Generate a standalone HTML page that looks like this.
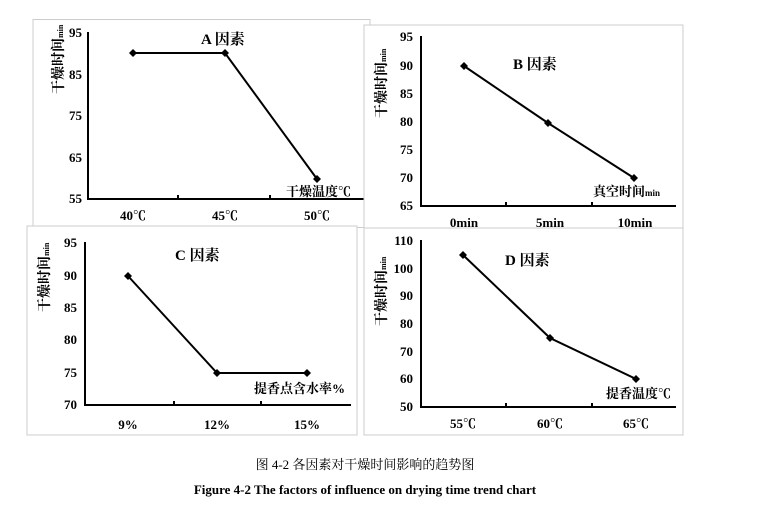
<!DOCTYPE html>
<html><head><meta charset="utf-8"><style>
html,body{margin:0;padding:0;background:#fff;}
svg{display:block;}
text{font-family:"Liberation Serif","Noto Serif CJK SC",serif;font-weight:bold;fill:#000;}
</style></head><body>
<svg width="767" height="511" viewBox="0 0 767 511" xmlns="http://www.w3.org/2000/svg">
<!-- Panel A -->
<rect x="33" y="19.5" width="337" height="208" fill="#fff" stroke="#ccc" stroke-width="1"/>
<g stroke="#000" stroke-width="2" fill="none">
<line x1="88" y1="32" x2="88" y2="199"/><line x1="87" y1="199" x2="364" y2="199"/>
<line x1="178" y1="195" x2="178" y2="199"/><line x1="270" y1="195" x2="270" y2="199"/>
<polyline points="133,53 225,53 317,179"/></g>
<g font-size="13" text-anchor="end"><text x="82" y="37">95</text><text x="82" y="79">85</text><text x="82" y="120">75</text><text x="82" y="162">65</text><text x="82" y="203">55</text></g>
<g font-size="13" text-anchor="middle"><text x="133" y="220">40℃</text><text x="225" y="220">45℃</text><text x="317" y="220">50℃</text></g>
<text x="201" y="44" font-size="15">A 因素</text>
<text x="286" y="196" font-size="13">干燥温度℃</text>
<text transform="translate(63,94) rotate(-90)" font-size="14">干燥时间<tspan font-size="8">min</tspan></text>
<!-- Panel B -->
<rect x="364" y="25" width="319" height="203" fill="#fff" stroke="#ccc"/>
<g stroke="#000" stroke-width="2" fill="none">
<line x1="421" y1="36" x2="421" y2="206"/><line x1="420" y1="206" x2="676" y2="206"/>
<line x1="506" y1="202" x2="506" y2="206"/><line x1="592" y1="202" x2="592" y2="206"/>
<polyline points="464,66 548,123 634,178"/></g>
<g font-size="13" text-anchor="end"><text x="413" y="41">95</text><text x="413" y="70">90</text><text x="413" y="98">85</text><text x="413" y="126">80</text><text x="413" y="154">75</text><text x="413" y="182">70</text><text x="413" y="210">65</text></g>
<g font-size="13" text-anchor="middle"><text x="464" y="227">0min</text><text x="550" y="227">5min</text><text x="635" y="227">10min</text></g>
<text x="513" y="69" font-size="15">B 因素</text>
<text x="593" y="196" font-size="13">真空时间<tspan font-size="9">min</tspan></text>
<text transform="translate(386,118) rotate(-90)" font-size="14">干燥时间<tspan font-size="8">min</tspan></text>
<!-- Panel C -->
<rect x="27" y="226" width="330" height="209" fill="#fff" stroke="#ccc"/>
<g stroke="#000" stroke-width="2" fill="none">
<line x1="85" y1="242" x2="85" y2="405"/><line x1="84" y1="405" x2="351" y2="405"/>
<line x1="174" y1="401" x2="174" y2="405"/><line x1="261" y1="401" x2="261" y2="405"/>
<polyline points="128,276 217,373 307,373"/></g>
<g font-size="13" text-anchor="end"><text x="77" y="247">95</text><text x="77" y="280">90</text><text x="77" y="312">85</text><text x="77" y="344">80</text><text x="77" y="377">75</text><text x="77" y="409">70</text></g>
<g font-size="13" text-anchor="middle"><text x="128" y="429">9%</text><text x="217" y="429">12%</text><text x="307" y="429">15%</text></g>
<text x="175" y="260" font-size="15">C 因素</text>
<text x="254" y="393" font-size="13">提香点含水率%</text>
<text transform="translate(49,312) rotate(-90)" font-size="14">干燥时间<tspan font-size="8">min</tspan></text>
<!-- Panel D -->
<rect x="364" y="228" width="319" height="207" fill="#fff" stroke="#ccc"/>
<g stroke="#000" stroke-width="2" fill="none">
<line x1="421" y1="240" x2="421" y2="407"/><line x1="420" y1="407" x2="676" y2="407"/>
<line x1="506" y1="403" x2="506" y2="407"/><line x1="592" y1="403" x2="592" y2="407"/>
<polyline points="463,255 550,338 636,379"/></g>
<g font-size="13" text-anchor="end"><text x="413" y="245">110</text><text x="413" y="273">100</text><text x="413" y="300">90</text><text x="413" y="328">80</text><text x="413" y="356">70</text><text x="413" y="383">60</text><text x="413" y="411">50</text></g>
<g font-size="13" text-anchor="middle"><text x="463" y="428">55℃</text><text x="550" y="428">60℃</text><text x="636" y="428">65℃</text></g>
<text x="505" y="265" font-size="15">D 因素</text>
<text x="606" y="398" font-size="13">提香温度℃</text>
<text transform="translate(386,326) rotate(-90)" font-size="14">干燥时间<tspan font-size="8">min</tspan></text>
<!-- markers -->
<g fill="#000">
<path d="M133,49 l4,4 l-4,4 l-4,-4z"/><path d="M225,49 l4,4 l-4,4 l-4,-4z"/><path d="M317,175 l4,4 l-4,4 l-4,-4z"/>
<path d="M464,62 l4,4 l-4,4 l-4,-4z"/><path d="M548,119 l4,4 l-4,4 l-4,-4z"/><path d="M634,174 l4,4 l-4,4 l-4,-4z"/>
<path d="M128,272 l4,4 l-4,4 l-4,-4z"/><path d="M217,369 l4,4 l-4,4 l-4,-4z"/><path d="M307,369 l4,4 l-4,4 l-4,-4z"/>
<path d="M463,251 l4,4 l-4,4 l-4,-4z"/><path d="M550,334 l4,4 l-4,4 l-4,-4z"/><path d="M636,375 l4,4 l-4,4 l-4,-4z"/>
</g>
<text x="365" y="469" font-size="13" text-anchor="middle" style="font-weight:normal">图 4-2 各因素对干燥时间影响的趋势图</text>
<text x="365" y="494" font-size="13" text-anchor="middle">Figure 4-2 The factors of influence on drying time trend chart</text>
</svg>
</body></html>
